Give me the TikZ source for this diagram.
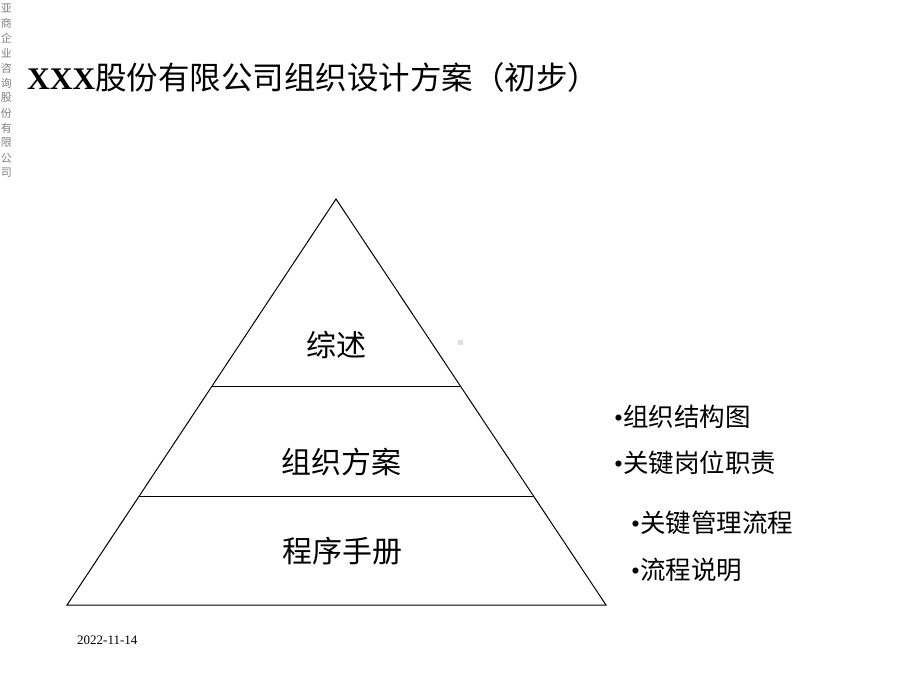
\documentclass[tikz,border=0pt]{standalone}
\usepackage{fontspec}
\setmainfont{Liberation Serif}
\newfontfamily\cjk{Noto Sans CJK SC}
\begin{document}
\begin{tikzpicture}[x=1pt,y=-1pt,
  lab/.style={font=\cjk\fontsize{30}{33}\selectfont, inner sep=0pt},
  bul/.style={font=\fontsize{25.5}{28}\selectfont, inner sep=0pt, anchor=west},
  edge/.style={draw=black, line width=1pt}]
\useasboundingbox (0,0) rectangle (920,690);
% side vertical text
\foreach \c [count=\i] in {亚,商,企,业,咨,询,股,份,有,限,公,司}
  \node[font=\cjk\fontsize{11}{12}\selectfont, text=gray, inner sep=0pt] (v\i) at (6.5,{-7+15*\i}) {\c};
% title
\node[anchor=west, inner sep=0pt] (title) at (27,78)
  {\fontsize{31.5}{35}\selectfont\textbf{XXX}{\cjk 股份有限公司组织设计方案（初步）}};
% pyramid
\coordinate (apex) at (336,199);
\coordinate (bl) at (67,605);
\coordinate (br) at (606,605);
\coordinate (l1) at (212,386);
\coordinate (r1) at (460,386);
\coordinate (l2) at (139,496);
\coordinate (r2) at (533,496);
\draw[edge] (apex) -- (bl) -- (br) -- cycle;
\draw[edge] (l1) -- (r1);
\draw[edge] (l2) -- (r2);
\node[lab] (n1) at (336,345) {综述};
\node[lab] (n2) at (341,462) {组织方案};
\node[lab] (n3) at (342,551) {程序手册};
% small marker
\node[fill=black!12, minimum size=5pt, inner sep=0pt] (dot) at (460,342) {};
% bullets
\node[bul] (b1) at (614,417) {\textbullet{\cjk 组织结构图}};
\node[bul] (b2) at (614,463) {\textbullet{\cjk 关键岗位职责}};
\node[bul] (b3) at (631,523) {\textbullet{\cjk 关键管理流程}};
\node[bul] (b4) at (631,570) {\textbullet{\cjk 流程说明}};
% date
\node[anchor=west, inner sep=0pt, font=\fontsize{13}{15}\selectfont] (date) at (77,640) {2022-11-14};
\end{tikzpicture}
\end{document}
